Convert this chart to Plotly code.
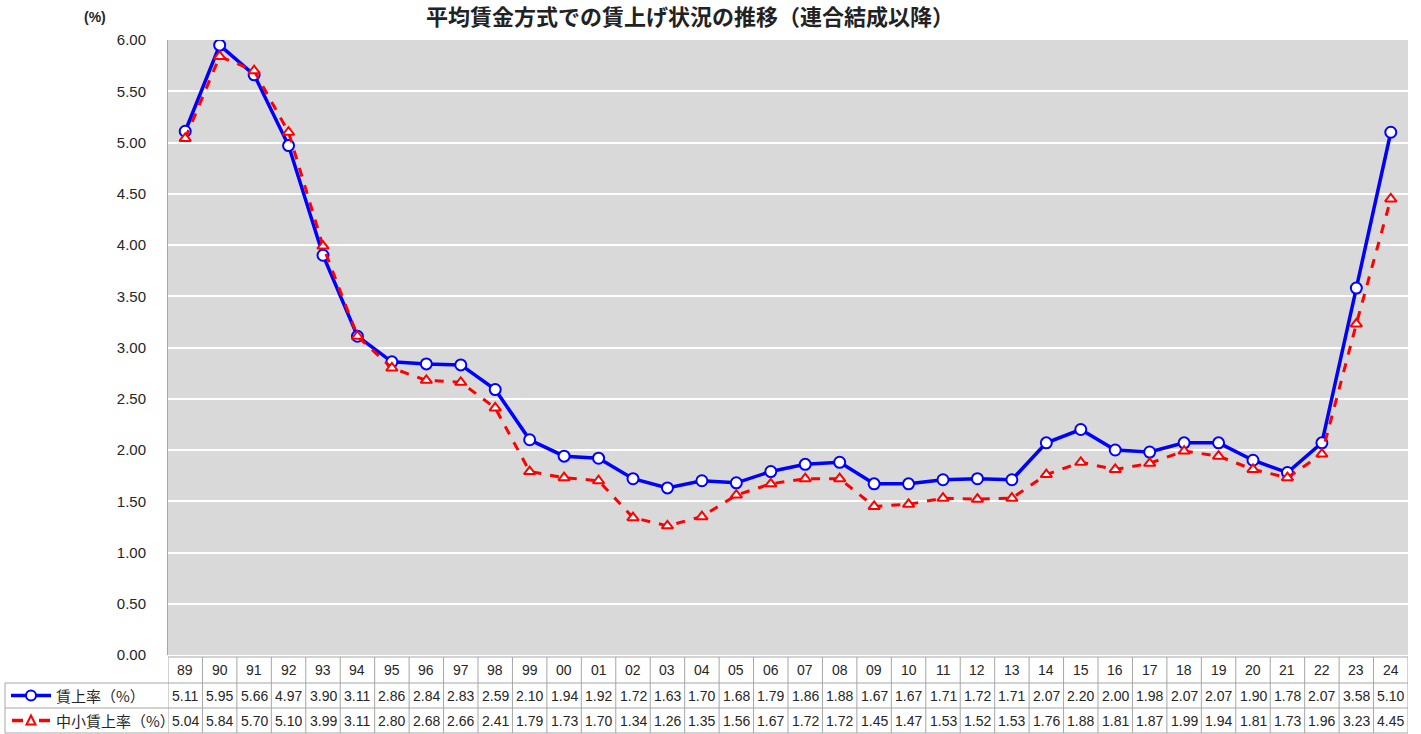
import plotly.graph_objects as go

years = ["89","90","91","92","93","94","95","96","97","98","99","00","01","02","03","04","05","06",
         "07","08","09","10","11","12","13","14","15","16","17","18","19","20","21","22","23","24"]
rate_all = [5.11,5.95,5.66,4.97,3.90,3.11,2.86,2.84,2.83,2.59,2.10,1.94,1.92,1.72,1.63,1.70,1.68,1.79,
            1.86,1.88,1.67,1.67,1.71,1.72,1.71,2.07,2.20,2.00,1.98,2.07,2.07,1.90,1.78,2.07,3.58,5.10]
rate_sme = [5.04,5.84,5.70,5.10,3.99,3.11,2.80,2.68,2.66,2.41,1.79,1.73,1.70,1.34,1.26,1.35,1.56,1.67,
            1.72,1.72,1.45,1.47,1.53,1.52,1.53,1.76,1.88,1.81,1.87,1.99,1.94,1.81,1.73,1.96,3.23,4.45]
name_all = "賃上率（%）"
name_sme = "中小賃上率（%）"
title_text = "平均賃金方式での賃上げ状況の推移（連合結成以降）"

W, H = 1421, 734
ML, MR, MT, MB = 168, 13, 40, 79
PW = W - ML - MR
PH = H - MT - MB

def py(p):
    return (H - MB - p) / PH

def px(p):
    return (p - ML) / PW

BLUE = "#0000ff"
RED = "#ff0000"
GRID = "#a6a6a6"
NUMFONT = "Liberation Sans, Arial, sans-serif"
JPFONT = "Noto Sans CJK JP, sans-serif"
TXT = "#262626"

fig = go.Figure()
fig.add_trace(go.Scatter(
    x=years, y=rate_all, mode="lines+markers", name=name_all,
    line=dict(color=BLUE, width=3.5),
    marker=dict(symbol="circle", size=11, color="white", line=dict(color=BLUE, width=2)),
))
fig.add_trace(go.Scatter(
    x=years, y=rate_sme, mode="lines+markers", name=name_sme,
    line=dict(color=RED, width=3, dash="dash"),
    marker=dict(symbol="triangle-up", size=10, color="white", line=dict(color=RED, width=2)),
))

shapes = []
annotations = []

y_top = py(657)
y_r1 = py(683)
y_r2 = py(708)
y_bot = py(733)
x_tab_left = px(5)

n = len(years)
shapes.append(dict(type="line", xref="x", yref="paper", x0=-0.5, x1=n - 0.5, y0=y_top, y1=y_top,
                   line=dict(color=GRID, width=1)))
for yy in (y_r1, y_r2, y_bot):
    shapes.append(dict(type="line", xref="paper", yref="paper", x0=x_tab_left, x1=1, y0=yy, y1=yy,
                       line=dict(color=GRID, width=1)))
for i in range(n + 1):
    shapes.append(dict(type="line", xref="x", yref="paper", x0=i - 0.5, x1=i - 0.5, y0=y_bot, y1=y_top,
                       line=dict(color=GRID, width=1)))
shapes.append(dict(type="line", xref="paper", yref="paper", x0=x_tab_left, x1=x_tab_left, y0=y_bot, y1=y_r1,
                   line=dict(color=GRID, width=1)))

for i, yr in enumerate(years):
    annotations.append(dict(x=i, xref="x", y=(y_top + y_r1) / 2, yref="paper", text=yr, showarrow=False,
                            font=dict(family=NUMFONT, size=14, color=TXT), xanchor="center", yanchor="middle"))
    annotations.append(dict(x=i, xref="x", y=(y_r1 + y_r2) / 2, yref="paper", text=f"{rate_all[i]:.2f}",
                            showarrow=False, font=dict(family=NUMFONT, size=14, color=TXT),
                            xanchor="center", yanchor="middle"))
    annotations.append(dict(x=i, xref="x", y=(y_r2 + y_bot) / 2, yref="paper", text=f"{rate_sme[i]:.2f}",
                            showarrow=False, font=dict(family=NUMFONT, size=14, color=TXT),
                            xanchor="center", yanchor="middle"))

# legend keys in row labels
c1 = 695.5
c2 = 720.5
yc1 = py(c1)
yc2 = py(c2)
shapes.append(dict(type="line", xref="paper", yref="paper", x0=px(11), x1=px(51), y0=yc1, y1=yc1,
                   line=dict(color=BLUE, width=3.5)))
shapes.append(dict(type="circle", xref="paper", yref="paper", x0=px(26), x1=px(36), y0=py(c1 + 5), y1=py(c1 - 5),
                   fillcolor="white", line=dict(color=BLUE, width=2)))
shapes.append(dict(type="line", xref="paper", yref="paper", x0=px(12), x1=px(23), y0=yc2, y1=yc2,
                   line=dict(color=RED, width=3.5)))
shapes.append(dict(type="line", xref="paper", yref="paper", x0=px(39), x1=px(50), y0=yc2, y1=yc2,
                   line=dict(color=RED, width=3.5)))
tri = "M {:.5f},{:.5f} L {:.5f},{:.5f} L {:.5f},{:.5f} Z".format(
    px(31), py(c2 - 5), px(26.5), py(c2 + 4), px(35.5), py(c2 + 4))
shapes.append(dict(type="path", xref="paper", yref="paper", path=tri,
                   fillcolor="white", line=dict(color=RED, width=2)))
annotations.append(dict(x=px(54), y=yc1, xref="paper", yref="paper", text=name_all, showarrow=False,
                        font=dict(family=JPFONT, size=15, color=TXT), xanchor="left", yanchor="middle"))
annotations.append(dict(x=px(54), y=yc2, xref="paper", yref="paper", text=name_sme, showarrow=False,
                        font=dict(family=JPFONT, size=15, color=TXT), xanchor="left", yanchor="middle"))

annotations.append(dict(x=px(95), y=py(17), xref="paper", yref="paper", text="<b>(%)</b>", showarrow=False,
                        font=dict(family=NUMFONT, size=14, color=TXT), xanchor="center", yanchor="middle"))
annotations.append(dict(x=px(690), y=py(15), xref="paper", yref="paper", text="<b>" + title_text + "</b>",
                        showarrow=False, font=dict(family=JPFONT, size=22, color="#222222"),
                        xanchor="center", yanchor="middle"))

fig.update_layout(
    width=W, height=H,
    margin=dict(l=ML, r=MR, t=MT, b=MB, pad=0),
    paper_bgcolor="white",
    plot_bgcolor="#d9d9d9",
    showlegend=False,
    shapes=shapes,
    annotations=annotations,
    xaxis=dict(type="category", categoryorder="array", categoryarray=years, range=[-0.5, n - 0.5],
               showticklabels=False, showgrid=False, zeroline=False, showline=False, ticks=""),
    yaxis=dict(range=[0, 6], dtick=0.5, tickformat=".2f", showgrid=True, gridcolor="white", gridwidth=2,
               zeroline=False, showline=True, linecolor="#a6a6a6", linewidth=1, ticks="",
               ticklabelstandoff=18, tickfont=dict(family=NUMFONT, size=15, color=TXT)),
)

fig.write_html("out.html", config={"displayModeBar": False},
               post_script="document.body.style.margin='0';document.body.style.overflow='hidden';")
